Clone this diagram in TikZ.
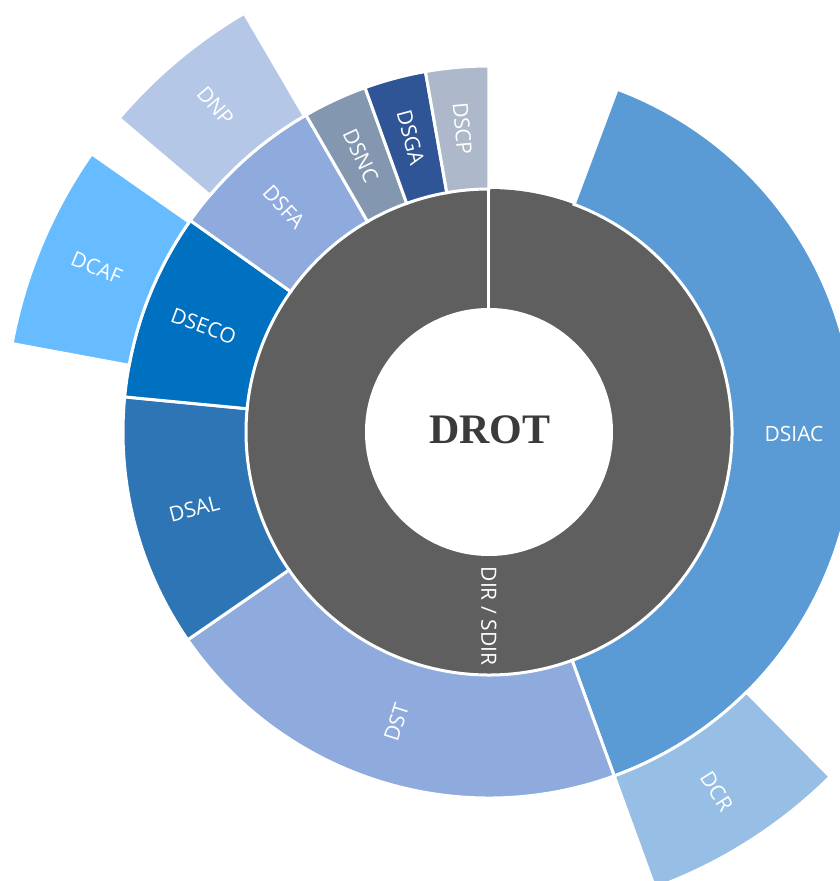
\documentclass[tikz,border=0pt]{standalone}
\usepackage{fontspec}
\setmainfont{Open Sans}
\newfontfamily\titlefont{Liberation Serif}
\definecolor{dirgray}{HTML}{5F5F5F}
\definecolor{dsiac}{HTML}{5B9BD5}
\definecolor{dcr}{HTML}{97BEE4}
\definecolor{dst}{HTML}{8FAADC}
\definecolor{dsal}{HTML}{2E75B6}
\definecolor{dseco}{HTML}{0070C0}
\definecolor{dcaf}{HTML}{66BCFF}
\definecolor{dsfa}{HTML}{8FAADC}
\definecolor{dnp}{HTML}{B4C7E7}
\definecolor{dsnc}{HTML}{8497B0}
\definecolor{dsga}{HTML}{2F5597}
\definecolor{dscp}{HTML}{ADB9CA}
\definecolor{drottext}{HTML}{3B3B3B}

\begin{document}
\begin{tikzpicture}[x=1pt,y=1pt]
\tikzset{
segment/.style={draw=white, line width=3pt},
mylabel/.style={text=white, inner sep=0pt, font=\fontsize{21}{25}\selectfont},
mytitle/.style={text=drottext, inner sep=0pt, font=\titlefont\bfseries\fontsize{42}{48}\selectfont},
}
\useasboundingbox (-489,-449) rectangle (351,432);
\clip (-489,-449) rectangle (351,432);

\fill[dirgray] (0,0) circle[radius=243];
\fill[white] (0,0) circle[radius=124];
\draw[segment] (90:124) -- (90:243);

\filldraw[segment, fill=dsiac] (69.5:243) arc[start angle=69.5, end angle=-70, radius=243] -- (-70:366) arc[start angle=-70, end angle=69.5, radius=366] -- cycle;
\filldraw[segment, fill=dst] (-70:243) arc[start angle=-70, end angle=-145.4, radius=243] -- (-145.4:366) arc[start angle=-145.4, end angle=-70, radius=366] -- cycle;
\filldraw[segment, fill=dsal] (-145.4:243) arc[start angle=-145.4, end angle=-185.5, radius=243] -- (-185.5:366) arc[start angle=-185.5, end angle=-145.4, radius=366] -- cycle;
\filldraw[segment, fill=dseco] (-185.5:243) arc[start angle=-185.5, end angle=-215.3, radius=243] -- (-215.3:366) arc[start angle=-215.3, end angle=-185.5, radius=366] -- cycle;
\filldraw[segment, fill=dsfa] (-215.3:243) arc[start angle=-215.3, end angle=-240, radius=243] -- (-240:366) arc[start angle=-240, end angle=-215.3, radius=366] -- cycle;
\filldraw[segment, fill=dsnc] (-240:243) arc[start angle=-240, end angle=-250.2, radius=243] -- (-250.2:366) arc[start angle=-250.2, end angle=-240, radius=366] -- cycle;
\filldraw[segment, fill=dsga] (-250.2:243) arc[start angle=-250.2, end angle=-260, radius=243] -- (-260:366) arc[start angle=-260, end angle=-250.2, radius=366] -- cycle;
\filldraw[segment, fill=dscp] (-260:243) arc[start angle=-260, end angle=-270, radius=243] -- (-270:366) arc[start angle=-270, end angle=-260, radius=366] -- cycle;

\filldraw[segment, fill=dcr] (-45.3:366) arc[start angle=-45.3, end angle=-70, radius=366] -- (-70:485) arc[start angle=-70, end angle=-45.3, radius=485] -- cycle;
\filldraw[segment, fill=dcaf] (-190.5:366) arc[start angle=-190.5, end angle=-215, radius=366] -- (-215:485) arc[start angle=-215, end angle=-190.5, radius=485] -- cycle;
\filldraw[segment, fill=dnp] (-220.3:366) arc[start angle=-220.3, end angle=-239.7, radius=366] -- (-239.7:485) arc[start angle=-239.7, end angle=-220.3, radius=485] -- cycle;

\node[mytitle] (drot) at (1,2) {DROT};
\node[mylabel, rotate=-90] (dir) at (-90:184) {DIR / SDIR};
\node[mylabel] (dsiaclabel) at (305,-2) {DSIAC};
\node[mylabel, rotate=72.3] (dstlabel) at (-107.7:304.5) {DST};
\node[mylabel, rotate=14.55] (dsallabel) at (-165.45:304.5) {DSAL};
\node[mylabel, rotate=-20.4] (dsecolabel) at (-200.4:304.5) {DSECO};
\node[mylabel, rotate=-47.65] (dsfalabel) at (-227.65:304.5) {DSFA};
\node[mylabel, rotate=-65.1] (dsnclabel) at (-245.1:304.5) {DSNC};
\node[mylabel, rotate=-75.1] (dsgalabel) at (-255.1:304.5) {DSGA};
\node[mylabel, rotate=-85] (dscplabel) at (-265:304.5) {DSCP};
\node[mylabel, rotate=-57.65] (dcrlabel) at (-57.65:425.5) {DCR};
\node[mylabel, rotate=-22.75] (dcaflabel) at (-202.75:425.5) {DCAF};
\node[mylabel, rotate=-50] (dnplabel) at (-230:425.5) {DNP};
\end{tikzpicture}
\end{document}
